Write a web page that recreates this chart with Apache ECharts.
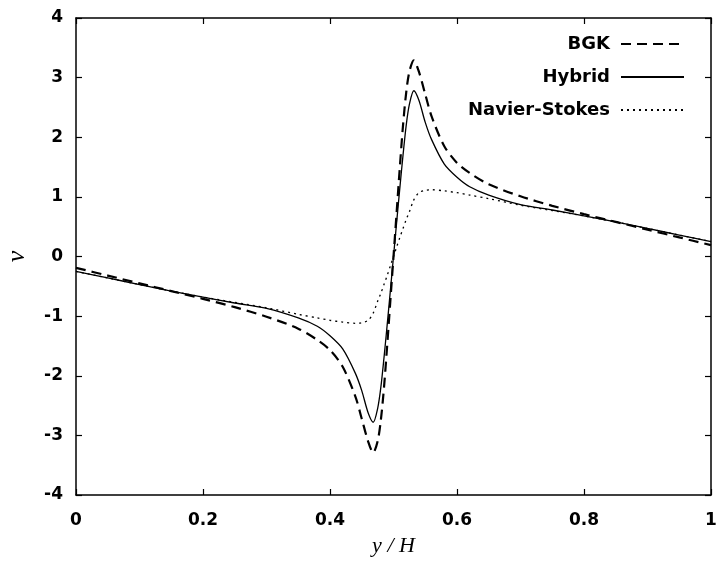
<!DOCTYPE html>
<html>
<head>
<meta charset="utf-8">
<script src="https://cdn.jsdelivr.net/npm/echarts@6/dist/echarts.min.js"></script>
<style>html,body{margin:0;padding:0;background:#fff}#c{width:718px;height:561px}</style>
</head>
<body>
<div id="c"></div>
<script>
const xs = [0, 0.05, 0.1, 0.15, 0.2, 0.25, 0.3, 0.35, 0.38, 0.4, 0.42, 0.44, 0.45, 0.46, 0.468, 0.475, 0.48, 0.485, 0.49, 0.495, 0.5,
  0.505, 0.51, 0.515, 0.52, 0.525, 0.532, 0.54, 0.55, 0.56, 0.58, 0.6, 0.62, 0.65, 0.7, 0.75, 0.8, 0.85, 0.9, 0.95, 1];
const bgk = [-0.19, -0.32, -0.45, -0.58, -0.71, -0.85, -1.01, -1.21, -1.40, -1.57, -1.85, -2.35, -2.72, -3.10, -3.29, -3.10, -2.75, -2.20, -1.50, -0.75, 0,
  0.75, 1.50, 2.20, 2.75, 3.10, 3.29, 3.10, 2.72, 2.35, 1.85, 1.57, 1.40, 1.21, 1.01, 0.85, 0.71, 0.58, 0.45, 0.32, 0.19];
const hybrid = [-0.25, -0.36, -0.47, -0.58, -0.68, -0.78, -0.87, -1.03, -1.17, -1.33, -1.55, -1.96, -2.25, -2.62, -2.78, -2.55, -2.20, -1.70, -1.15, -0.58, 0,
  0.58, 1.15, 1.70, 2.20, 2.55, 2.78, 2.62, 2.25, 1.96, 1.55, 1.33, 1.17, 1.03, 0.87, 0.78, 0.68, 0.58, 0.47, 0.36, 0.25];
const ns = [-0.25, -0.36, -0.47, -0.58, -0.68, -0.77, -0.86, -0.97, -1.03, -1.07, -1.10, -1.12, -1.11, -1.07, -0.95, -0.75, -0.62, -0.47, -0.32, -0.16, 0,
  0.16, 0.32, 0.47, 0.62, 0.75, 0.95, 1.07, 1.11, 1.12, 1.10, 1.07, 1.03, 0.97, 0.86, 0.77, 0.68, 0.58, 0.47, 0.36, 0.25];
const seriesNames = ['BGK', 'Hybrid', 'Navier-Stokes'];
const xTicks = [0, 0.2, 0.4, 0.6, 0.8, 1];
const yTicks = [-4, -3, -2, -1, 0, 1, 2, 3, 4];

const pairs = arr => xs.map((x, i) => [x, arr[i]]);
const labelFont = {fontFamily: 'DejaVu Sans, Liberation Sans, sans-serif', fontWeight: 'bold', fontSize: 17, color: '#000'};
const axLine = {show: true, onZero: false, lineStyle: {color: '#000', width: 1.5}};
const tick = {show: true, inside: true, length: 6, lineStyle: {color: '#000', width: 1.2}};

const chart = echarts.init(document.getElementById('c'));
chart.setOption({
  animation: false,
  backgroundColor: '#fff',
  grid: {left: 76, right: 7, top: 18, bottom: 66, outerBoundsMode: 'none', containLabel: false},
  legend: {
    orient: 'vertical', right: 28, top: 30, align: 'right', itemGap: 15,
    itemWidth: 63, itemHeight: 16,
    itemStyle: {opacity: 0},
    textStyle: {fontFamily: 'DejaVu Sans, Liberation Sans, sans-serif', fontWeight: 'bold', fontSize: 18, color: '#000', padding: [0, 6, 0, 0]},
    data: seriesNames
  },
  xAxis: [
    {type: 'value', min: 0, max: 1, interval: 0.2, position: 'bottom',
     axisLine: axLine, axisTick: tick, splitLine: {show: false},
     axisLabel: Object.assign({margin: 17}, labelFont),
     name: 'y / H', nameLocation: 'middle', nameGap: 40,
     nameTextStyle: {fontFamily: 'Liberation Serif, Times New Roman, serif', fontStyle: 'italic', fontSize: 22, color: '#000'}},
    {type: 'value', min: 0, max: 1, interval: 0.2, position: 'top',
     axisLine: axLine, axisTick: tick, splitLine: {show: false}, axisLabel: {show: false}}
  ],
  yAxis: [
    {type: 'value', min: -4, max: 4, interval: 1, position: 'left',
     axisLine: axLine, axisTick: tick, splitLine: {show: false},
     axisLabel: Object.assign({margin: 13}, labelFont),
     name: 'v', nameLocation: 'middle', nameGap: 46,
     nameTextStyle: {fontFamily: 'Liberation Serif, Times New Roman, serif', fontStyle: 'italic', fontSize: 26, color: '#000'}},
    {type: 'value', min: -4, max: 4, interval: 1, position: 'right',
     axisLine: axLine, axisTick: tick, splitLine: {show: false}, axisLabel: {show: false}}
  ],
  series: [
    {name: seriesNames[0], type: 'line', data: pairs(bgk), smooth: 0.3, symbol: 'none',
     lineStyle: {color: '#000', width: 2.2, type: [10, 6]}, itemStyle: {color: '#000'}},
    {name: seriesNames[1], type: 'line', data: pairs(hybrid), smooth: 0.3, symbol: 'none',
     lineStyle: {color: '#000', width: 1.3, type: 'solid'}, itemStyle: {color: '#000'}},
    {name: seriesNames[2], type: 'line', data: pairs(ns), smooth: 0.3, symbol: 'none',
     lineStyle: {color: '#000', width: 1.3, type: [2, 4]}, itemStyle: {color: '#000'}}
  ]
});
</script>
</body>
</html>
